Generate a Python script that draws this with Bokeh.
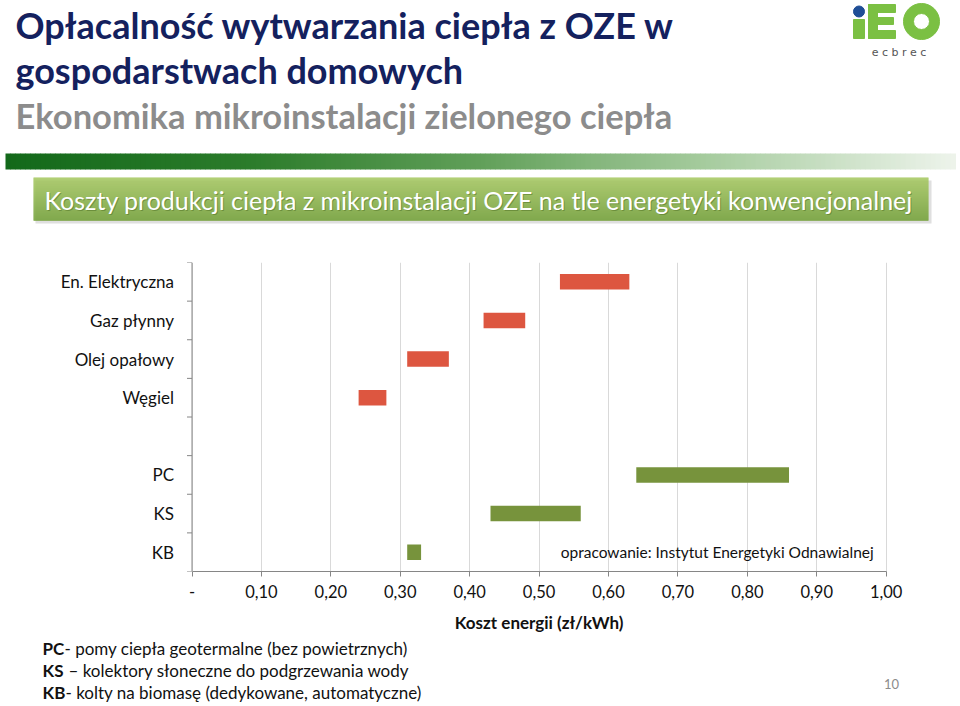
from bokeh.plotting import figure
from bokeh.layouts import column
from bokeh.models import Range1d, FixedTicker, CustomJSTickFormatter
from bokeh.core.properties import value
from bokeh.embed import file_html
from bokeh.resources import INLINE

# ---------------- data ----------------
title_line1 = "Opłacalność wytwarzania ciepła z OZE w"
title_line2 = "gospodarstwach domowych"
subtitle = "Ekonomika mikroinstalacji zielonego ciepła"
banner_text = "Koszty produkcji ciepła z mikroinstalacji OZE na tle energetyki konwencjonalnej"

categories = ["En. Elektryczna", "Gaz płynny", "Olej opałowy", "Węgiel", "", "PC", "KS", "KB"]

conv_labels = ["En. Elektryczna", "Gaz płynny", "Olej opałowy", "Węgiel"]
conv_min = [0.53, 0.42, 0.31, 0.24]
conv_max = [0.63, 0.48, 0.37, 0.28]

oze_labels = ["PC", "KS", "KB"]
oze_min = [0.64, 0.43, 0.31]
oze_max = [0.86, 0.56, 0.33]

x_ticks = [0.0, 0.1, 0.2, 0.3, 0.4, 0.5, 0.6, 0.7, 0.8, 0.9, 1.0]
x_title = "Koszt energii (zł/kWh)"
source_note = "opracowanie: Instytut Energetyki Odnawialnej"

abbr = ["PC", "KS", "KB"]
desc = ["- pomy ciepła geotermalne (bez powietrznych)",
        "– kolektory słoneczne do podgrzewania wody",
        "- kolty na biomasę (dedykowane, automatyczne)"]
page_no = "10"

# ---------------- styles ----------------
FONT = "Lato"
NAVY = "#14215E"
GRAY = "#8C8C8C"
RED = "#DD5640"
GREEN = "#77933C"
AXIS = "#868686"
LOGO_GREEN = "#7BC043"
LOGO_BLUE = "#1F4E96"
W = 956


def hexmix(c1, c2, t):
    a = [int(c1[i:i + 2], 16) for i in (1, 3, 5)]
    b = [int(c2[i:i + 2], 16) for i in (1, 3, 5)]
    return "#" + "".join("%02x" % round(a[k] + (b[k] - a[k]) * t) for k in range(3))


def gradient(stops, pos):
    for (p0, c0), (p1, c1) in zip(stops[:-1], stops[1:]):
        if p0 <= pos <= p1:
            return hexmix(c0, c1, (pos - p0) / (p1 - p0))
    return stops[-1][1]


def blank(y0, y1):
    f = figure(width=W, height=y1 - y0, x_range=Range1d(0, W), y_range=Range1d(y1, y0),
               x_axis_location=None, y_axis_location=None, output_backend="svg",
               toolbar_location=None, min_border=0)
    f.grid.visible = False
    f.outline_line_color = None
    return f


# ---------------- header (page y 0..254) ----------------
hdr = blank(0, 254)

hdr.text(x=[15], y=[24], text=[title_line1], text_font=value(FONT), text_font_style="bold",
         text_font_size="36px", text_color=NAVY, text_baseline="middle")
hdr.text(x=[15], y=[69.5], text=[title_line2], text_font=value(FONT), text_font_style="bold",
         text_font_size="36px", text_color=NAVY, text_baseline="middle")
hdr.text(x=[15], y=[115], text=[subtitle], text_font=value(FONT), text_font_style="bold",
         text_font_size="34.5px", text_color=GRAY, text_baseline="middle")

# logo
hdr.quad(left=[853], right=[864], top=[19], bottom=[38], color=LOGO_GREEN)
hdr.ellipse(x=[858.5], y=[11], width=11, height=11, color=LOGO_BLUE)
hdr.quad(left=[868, 868, 868, 868], right=[877, 895, 893, 895], top=[4, 4, 17, 30],
         bottom=[38, 12, 24, 38], color=LOGO_GREEN)
hdr.annulus(x=[921], y=[21], inner_radius=8, outer_radius=18, color=LOGO_GREEN)
hdr.text(x=[902], y=[52], text=["e c   b r e c"], text_font=value("DejaVu Sans"),
         text_font_size="11px", text_color="#555555", text_align="center", text_baseline="middle")

# stripe
stripe_stops = [(5, "#13691a"), (250, "#2c7c2b"), (480, "#62a05a"), (700, "#a5cb9d"), (955, "#eef4ec")]
sx = list(range(5, 955, 5))
hdr.quad(left=sx, right=[s + 5.5 for s in sx], top=[153] * len(sx), bottom=[169] * len(sx),
         color=[gradient(stripe_stops, s) for s in sx], line_color=None)

# banner
hdr.quad(left=[35], right=[931], top=[180], bottom=[223], color="#c9c9c9", alpha=0.6, line_color=None)
by = list(range(177, 220, 1))
hdr.quad(left=[33] * len(by), right=[928] * len(by), top=by, bottom=[b + 1.2 for b in by],
         color=[hexmix("#a6c862", "#73a038", (b - 177) / 43) for b in by], line_color=None)
hdr.text(x=[45], y=[200], text=[banner_text], text_font=value(FONT), text_font_size="25px",
         text_color="#4d6e22", text_alpha=0.5, text_baseline="middle")
hdr.text(x=[44], y=[199], text=[banner_text], text_font=value(FONT), text_font_size="25px",
         text_color="white", text_baseline="middle")

# ---------------- chart (page y 254..611, frame 262..571, x 0..1 -> page 191.5..885.7) ----------------
X0_PAGE, X1_PAGE = 191.5, 885.7
ppu = (X1_PAGE - X0_PAGE) / (x_ticks[-1] - x_ticks[0])
ch = figure(width=W, height=357,
            x_range=Range1d((0 - X0_PAGE) / ppu, (W - X0_PAGE) / ppu),
            y_range=Range1d(0, 8), y_axis_location=None,
            output_backend="svg", toolbar_location=None,
            min_border_left=0, min_border_right=0, min_border_top=8, min_border_bottom=40)
ch.outline_line_color = None
ch.ygrid.visible = False
ch.xgrid.ticker = FixedTicker(ticks=x_ticks)
ch.xgrid.grid_line_color = "#D9D9D9"

n = len(categories)
centers = [n - 0.5 - i for i in range(n)]
pos = dict(zip(categories, centers))

ch.hbar(y=[pos[c] for c in conv_labels], left=conv_min, right=conv_max, height=0.4,
        color=RED, line_color=None)
ch.hbar(y=[pos[c] for c in oze_labels], left=oze_min, right=oze_max, height=0.4,
        color=GREEN, line_color=None)

# category axis (drawn at x = 0)
ch.segment(x0=[0], y0=[0], x1=[0], y1=[n], line_color=AXIS, line_width=1)
ch.ray(x=[0] * (n + 1), y=list(range(n + 1)), length=5, length_units="screen", angle=3.14159265,
       line_color=AXIS, line_width=1)
lab = [c for c in categories if c]
ch.text(x=[0] * len(lab), y=[pos[c] for c in lab], text=lab, x_offset=-18,
        text_font=value(FONT), text_font_size="17px", text_color="#111111",
        text_align="right", text_baseline="middle")

ch.text(x=[0.982], y=[pos["KB"]], text=[source_note], text_font=value(FONT),
        text_font_size="15.5px", text_color="#111111", text_align="right", text_baseline="middle")

xa = ch.xaxis[0]
xa.ticker = FixedTicker(ticks=x_ticks)
xa.bounds = (x_ticks[0], x_ticks[-1])
xa.formatter = CustomJSTickFormatter(code="return tick < 1e-9 ? '-' : tick.toFixed(2).replace('.', ',');")
xa.axis_line_color = AXIS
xa.major_tick_line_color = AXIS
xa.major_tick_out = 5
xa.major_tick_in = 0
xa.minor_tick_line_color = None
xa.major_label_text_font = FONT
xa.major_label_text_font_size = "16.5px"
xa.major_label_text_color = "#111111"
xa.major_label_standoff = 8

# ---------------- footer (page y 611..704) ----------------
ftr = blank(611, 704)
ftr.text(x=[(X0_PAGE + X1_PAGE) / 2], y=[622], text=[x_title], text_font=value(FONT),
         text_font_style="bold", text_font_size="17px", text_color="#111111",
         text_align="center", text_baseline="middle")
line_y = [648, 670, 692]
desc_x = [64, 68, 65]
ftr.text(x=[42] * 3, y=line_y, text=abbr, text_font=value(FONT), text_font_style="bold",
         text_font_size="17px", text_color="#111111", text_baseline="middle")
ftr.text(x=desc_x, y=line_y, text=desc, text_font=value(FONT),
         text_font_size="17px", text_color="#111111", text_baseline="middle")
ftr.text(x=[891], y=[683], text=[page_no], text_font=value(FONT), text_font_size="13px",
         text_color=GRAY, text_align="center", text_baseline="middle")

page = column(hdr, ch, ftr, spacing=0)
open("out.html", "w").write(file_html(page, INLINE))
